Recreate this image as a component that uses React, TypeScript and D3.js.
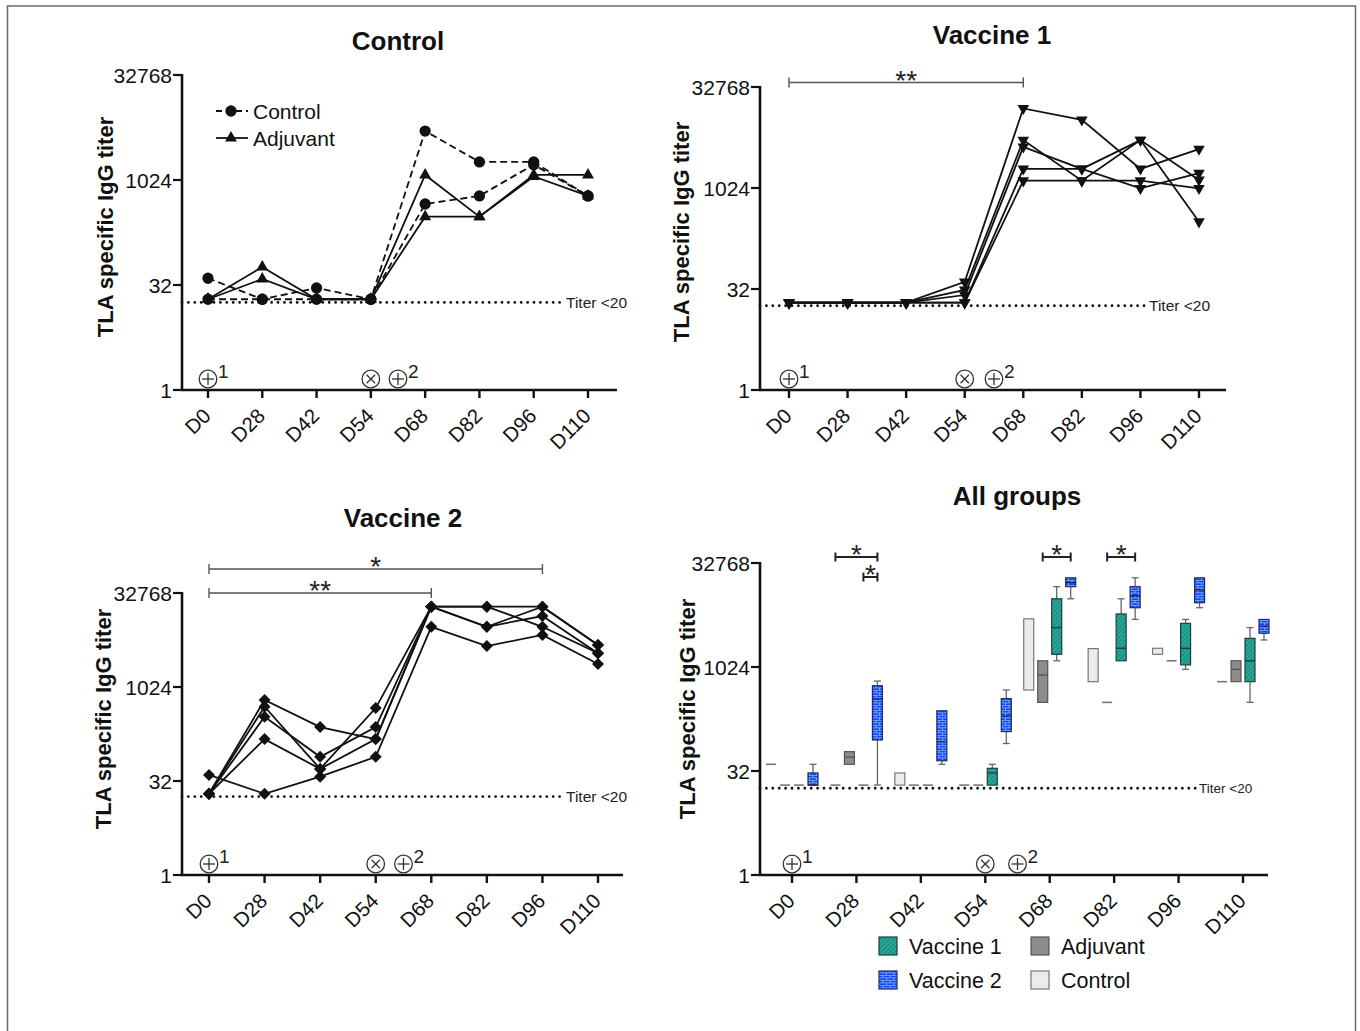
import { useEffect } from "react";
import * as d3 from "d3";

// ---- data ----
const days = ["D0", "D28", "D42", "D54", "D68", "D82", "D96", "D110"];
const yTicks = [1, 32, 1024, 32768];
const titerCut = 18;

// Control panel (individual animals)
const controlAnimals = [
  [40, 20, 29, 20, 5150, 1860, 1860, 605],
  [20, 20, 20, 20, 464, 605, 1700, 605],
];
const adjuvantAnimals = [
  [20, 58, 20, 20, 1210, 305, 1210, 1210],
  [20, 39, 20, 20, 305, 305, 1150, 605],
];

// Vaccine 1 animals
const vaccine1Animals = [
  [20, 20, 20, 41, 15700, 10600, 1970, 3900],
  [20, 20, 20, 31, 5300, 1315, 5300, 1350],
  [20, 20, 20, 26, 4200, 1970, 5300, 322],
  [20, 20, 20, 20, 1970, 1970, 1010, 1710],
  [20, 20, 20, 20, 1315, 1315, 1315, 1010],
];

// Vaccine 2 animals
const vaccine2Animals = [
  [20, 634, 234, 150, 19800, 19800, 19800, 4800],
  [20, 495, 50, 471, 19800, 9430, 14000, 3570],
  [20, 342, 78, 234, 19800, 19800, 9430, 3570],
  [40, 20, 37.5, 78, 9430, 4640, 6970, 2390],
  [20, 150, 50, 150, 19800, 9430, 19800, 4800],
];

// All groups: [min, q1, median, q3, max] per day (median null = not drawn)
const controlBox = [
  [40, 40, null, 40, 40],
  [20, 20, null, 20, 20],
  [20, 20, null, 30, 30],
  [20, 20, null, 20, 20],
  [475, 475, null, 5100, 5100],
  [628, 628, null, 1890, 1890],
  [1563, 1563, null, 1910, 1910],
  [628, 628, null, 628, 628],
];
const adjuvantBox = [
  [20, 20, null, 20, 20],
  [40, 40, 51, 61, 61],
  [20, 20, null, 20, 20],
  [20, 20, null, 20, 20],
  [315, 315, 786, 1260, 1260],
  [315, 315, null, 315, 315],
  [1260, 1260, null, 1260, 1260],
  [628, 628, 948, 1260, 1260],
];
const vaccine1Box = [
  [20, 20, null, 20, 20],
  [20, 20, null, 20, 20],
  [20, 20, null, 20, 20],
  [20, 20, 30, 35, 40],
  [1260, 1563, 3800, 9950, 14900],
  [1260, 1260, 1910, 6000, 9950],
  [948, 1100, 1910, 4390, 5000],
  [315, 628, 1260, 2660, 3800],
];
const vaccine2Box = [
  [20, 20, 20, 30, 40],
  [20, 90, 352, 549, 640],
  [40, 45, 85, 238, 238],
  [80, 119, 200, 357, 475],
  [9950, 14900, 17000, 20000, 20000],
  [5000, 7380, 11000, 14900, 20000],
  [7380, 8720, 13300, 20000, 20000],
  [2520, 3150, 4000, 5000, 5000],
];

const groupNames = ["Control", "Adjuvant", "Vaccine 1", "Vaccine 2"];
// significance bars in "All groups": [day, fromGroup, toGroup, level]
const allGroupsSig: [string, number, number, number][] = [
  ["D28", 0, 3, 0],
  ["D28", 2, 3, 1],
  ["D68", 1, 3, 0],
  ["D82", 1, 3, 0],
];

const FONT = "'Liberation Sans', Arial, Helvetica, sans-serif";
const INK = "#111";

type Panel = {
  left: number;
  first: number;
  last: number;
  right: number;
  top: number;
  bottom: number;
  title: string;
  titleX: number;
  titleY: number;
  labelX: number;
  labelY: number;
  cutEnd: number;
  cutSize: number;
};

const P1: Panel = { left: 182, first: 208, last: 588, right: 617, top: 75, bottom: 390, title: "Control", titleX: 398, titleY: 50, labelX: 105, labelY: 227, cutEnd: 563, cutSize: 15.5 };
const P2: Panel = { left: 760, first: 789, last: 1199, right: 1226, top: 87, bottom: 390, title: "Vaccine 1", titleX: 992, titleY: 44, labelX: 681, labelY: 232, cutEnd: 1146, cutSize: 15.5 };
const P3: Panel = { left: 182, first: 209, last: 598, right: 623, top: 593, bottom: 875, title: "Vaccine 2", titleX: 403, titleY: 527, labelX: 103, labelY: 719, cutEnd: 563, cutSize: 15.5 };
const P4: Panel = { left: 760, first: 792, last: 1243, right: 1268, top: 563, bottom: 875, title: "All groups", titleX: 1017, titleY: 505, labelX: 687, labelY: 709, cutEnd: 1196, cutSize: 13.5 };

function scales(p: Panel) {
  const x = d3.scalePoint<string>().domain(days).range([p.first, p.last]);
  const y = d3.scaleLog().base(2).domain([1, 32768]).range([p.bottom, p.top]);
  return { x, y };
}

function Frame({ p }: { p: Panel }) {
  const { x, y } = scales(p);
  const midVac = ((x("D54") as number) + (x("D68") as number)) / 2;
  const symY = p.bottom - 11;
  return (
    <g>
      <text x={p.titleX} y={p.titleY} textAnchor="middle" fontSize={26} fontWeight="bold">
        {p.title}
      </text>
      <text
        transform={`translate(${p.labelX},${p.labelY}) rotate(-90)`}
        textAnchor="middle"
        dy="0.35em"
        fontSize={22}
        fontWeight="bold"
      >
        TLA specific IgG titer
      </text>
      {/* y axis */}
      <line x1={p.left} x2={p.left} y1={p.top - 1} y2={p.bottom} stroke={INK} strokeWidth={2.6} />
      {yTicks.map((t) => (
        <g key={t}>
          <line x1={p.left - 9} x2={p.left} y1={y(t)} y2={y(t)} stroke={INK} strokeWidth={2.2} />
          <text x={p.left - 10} y={y(t)} dy="0.36em" textAnchor="end" fontSize={21}>
            {t}
          </text>
        </g>
      ))}
      {/* x axis */}
      <line x1={p.left - 1} x2={p.right} y1={p.bottom} y2={p.bottom} stroke={INK} strokeWidth={2.6} />
      {days.map((d) => (
        <g key={d}>
          <line x1={x(d)} x2={x(d)} y1={p.bottom} y2={p.bottom + 8} stroke={INK} strokeWidth={2.4} />
          <text
            transform={`translate(${(x(d) as number) - 1},${p.bottom + 22}) rotate(-45)`}
            textAnchor="end"
            dy="0.35em"
            fontSize={20.5}
          >
            {d}
          </text>
        </g>
      ))}
      {/* titer cut-off */}
      <line
        x1={p.left}
        x2={p.cutEnd}
        y1={y(titerCut)}
        y2={y(titerCut)}
        stroke={INK}
        strokeWidth={2.8}
        strokeDasharray="0 6.4"
        strokeLinecap="round"
      />
      <text x={p.cutEnd + 3} y={y(titerCut)} dy="0.36em" fontSize={p.cutSize} fill="#222">
        Titer &lt;20
      </text>
      {/* immunisation symbols */}
      <Plus cx={x("D0") as number} cy={symY} sup="1" />
      <Times cx={x("D54") as number} cy={symY} />
      <Plus cx={midVac} cy={symY} sup="2" />
    </g>
  );
}

function Plus({ cx, cy, sup }: { cx: number; cy: number; sup: string }) {
  return (
    <g stroke="#333" strokeWidth={1.3} fill="none">
      <circle cx={cx} cy={cy} r={8.8} fill="#fff" />
      <line x1={cx - 6} x2={cx + 6} y1={cy} y2={cy} />
      <line x1={cx} x2={cx} y1={cy - 6} y2={cy + 6} />
      <text x={cx + 10} y={cy - 1} fontSize={19} fill="#222" stroke="none">
        {sup}
      </text>
    </g>
  );
}

function Times({ cx, cy }: { cx: number; cy: number }) {
  const k = 4.2;
  return (
    <g stroke="#333" strokeWidth={1.3} fill="none">
      <circle cx={cx} cy={cy} r={8.8} fill="#fff" />
      <line x1={cx - k} x2={cx + k} y1={cy - k} y2={cy + k} />
      <line x1={cx - k} x2={cx + k} y1={cy + k} y2={cy - k} />
    </g>
  );
}

function SigBar({ x1, x2, y, stars, color = "#555", w = 1.4, cap = 5 }: { x1: number; x2: number; y: number; stars: string; color?: string; w?: number; cap?: number }) {
  return (
    <g>
      <line x1={x1} x2={x2} y1={y} y2={y} stroke={color} strokeWidth={w} />
      <line x1={x1} x2={x1} y1={y - cap} y2={y + cap} stroke={color} strokeWidth={w} />
      <line x1={x2} x2={x2} y1={y - cap} y2={y + cap} stroke={color} strokeWidth={w} />
      <text x={(x1 + x2) / 2} y={y + 7} textAnchor="middle" fontSize={28} fill="#222">
        {stars}
      </text>
    </g>
  );
}

function Series({ p, data, symbol, size, rotate = 0, dashed = false }: { p: Panel; data: number[][]; symbol: d3.SymbolType; size: number; rotate?: number; dashed?: boolean }) {
  const { x, y } = scales(p);
  const line = d3
    .line<number>()
    .x((_, i) => x(days[i]) as number)
    .y((v) => y(v));
  const sym = d3.symbol().type(symbol).size(size)();
  return (
    <g>
      {data.map((s, k) => (
        <path key={k} d={line(s) ?? ""} fill="none" stroke={INK} strokeWidth={1.8} strokeDasharray={dashed ? "7 4" : undefined} />
      ))}
      {data.map((s, k) =>
        s.map((v, i) => (
          <path key={`${k}-${i}`} d={sym ?? ""} fill={INK} transform={`translate(${x(days[i])},${y(v)}) rotate(${rotate})`} />
        ))
      )}
    </g>
  );
}

const boxStyles = [
  { fill: "#ececec", stroke: "#777", off: -21 },
  { fill: "#8d8d8d", stroke: "#555", off: -7 },
  { fill: "url(#hatch)", stroke: "#1c3f3a", off: 7 },
  { fill: "url(#brick)", stroke: "#1c2a66", off: 21 },
];
const boxData = [controlBox, adjuvantBox, vaccine1Box, vaccine2Box];

function Boxes({ p }: { p: Panel }) {
  const { x, y } = scales(p);
  const bw = 10;
  return (
    <g>
      {boxData.map((g, gi) =>
        g.map((s, di) => {
          const st = boxStyles[gi];
          const cx = (x(days[di]) as number) + st.off;
          const [mn, q1, md, q3, mx] = s as (number | null)[];
          if (q1 === q3) {
            return (
              <line key={`${gi}-${di}`} x1={cx - bw / 2} x2={cx + bw / 2} y1={y(q1 as number)} y2={y(q1 as number)} stroke="#777" strokeWidth={1.6} />
            );
          }
          return (
            <g key={`${gi}-${di}`}>
              {(mx as number) > (q3 as number) && (
                <g stroke="#666" strokeWidth={1.3}>
                  <line x1={cx} x2={cx} y1={y(q3 as number)} y2={y(mx as number)} />
                  <line x1={cx - 3.5} x2={cx + 3.5} y1={y(mx as number)} y2={y(mx as number)} />
                </g>
              )}
              {(mn as number) < (q1 as number) && (
                <g stroke="#666" strokeWidth={1.3}>
                  <line x1={cx} x2={cx} y1={y(q1 as number)} y2={y(mn as number)} />
                  <line x1={cx - 3.5} x2={cx + 3.5} y1={y(mn as number)} y2={y(mn as number)} />
                </g>
              )}
              <rect
                x={cx - bw / 2}
                y={y(q3 as number)}
                width={bw}
                height={y(q1 as number) - y(q3 as number)}
                fill={st.fill}
                stroke={st.stroke}
                strokeWidth={1.2}
              />
              {md !== null && (
                <line x1={cx - bw / 2} x2={cx + bw / 2} y1={y(md)} y2={y(md)} stroke={st.stroke} strokeWidth={1.4} />
              )}
            </g>
          );
        })
      )}
      {allGroupsSig.map(([d, a, b, lvl], i) => (
        <SigBar
          key={i}
          x1={(x(d) as number) + boxStyles[a].off}
          x2={(x(d) as number) + boxStyles[b].off}
          y={557 + lvl * 20}
          stars="*"
          color="#222"
          w={2}
          cap={4.5}
        />
      ))}
    </g>
  );
}

function Legend() {
  const items = [
    { name: groupNames[2], fill: "url(#hatch)", stroke: "#1c3f3a", x: 879, y: 937 },
    { name: groupNames[1], fill: "#8d8d8d", stroke: "#555", x: 1031, y: 937 },
    { name: groupNames[3], fill: "url(#brick)", stroke: "#1c2a66", x: 879, y: 971 },
    { name: groupNames[0], fill: "#ececec", stroke: "#777", x: 1031, y: 971 },
  ];
  return (
    <g>
      {items.map((it) => (
        <g key={it.name}>
          <rect x={it.x} y={it.y} width={18} height={18} fill={it.fill} stroke={it.stroke} strokeWidth={1.2} />
          <text x={it.x + 30} y={it.y + 9} dy="0.36em" fontSize={21.5}>
            {it.name}
          </text>
        </g>
      ))}
    </g>
  );
}

export default function App() {
  useEffect(() => {
    document.body.style.margin = "0";
  }, []);

  const s2 = scales(P2);
  const s3 = scales(P3);

  return (
    <svg width={1360} height={1031} style={{ display: "block", background: "#fff" }} fontFamily={FONT} fill={INK}>
      <defs>
        <pattern id="hatch" width={3.2} height={3.2} patternUnits="userSpaceOnUse" patternTransform="rotate(45)">
          <rect width={3.2} height={3.2} fill="#26a898" />
          <line x1={0} x2={0} y1={0} y2={3.2} stroke="#14695f" strokeWidth={1.1} />
        </pattern>
        <pattern id="brick" width={7} height={5} patternUnits="userSpaceOnUse">
          <rect width={7} height={5} fill="#1f3ff2" />
          <line x1={0} x2={7} y1={0.4} y2={0.4} stroke="#79c6ff" strokeWidth={0.8} />
          <line x1={0} x2={7} y1={2.9} y2={2.9} stroke="#79c6ff" strokeWidth={0.8} />
          <line x1={1} x2={1} y1={0.4} y2={2.9} stroke="#79c6ff" strokeWidth={0.8} />
          <line x1={4.5} x2={4.5} y1={2.9} y2={5} stroke="#79c6ff" strokeWidth={0.8} />
        </pattern>
      </defs>
      <rect x={7.5} y={6} width={1348} height={1040} fill="none" stroke="#6a6a6a" strokeWidth={1.5} />

      {/* Control */}
      <Frame p={P1} />
      <Series p={P1} data={adjuvantAnimals} symbol={d3.symbolTriangle} size={62} />
      <Series p={P1} data={controlAnimals} symbol={d3.symbolCircle} size={100} dashed />
      <g>
        <line x1={216} x2={248} y1={111} y2={111} stroke={INK} strokeWidth={1.8} strokeDasharray="6 4" />
        <path d={d3.symbol().type(d3.symbolCircle).size(100)() ?? ""} transform="translate(231,111)" />
        <text x={253} y={111} dy="0.36em" fontSize={21}>Control</text>
        <line x1={216} x2={248} y1={138} y2={138} stroke={INK} strokeWidth={1.8} />
        <path d={d3.symbol().type(d3.symbolTriangle).size(62)() ?? ""} transform="translate(231,138)" />
        <text x={253} y={138} dy="0.36em" fontSize={21}>Adjuvant</text>
      </g>

      {/* Vaccine 1 */}
      <Frame p={P2} />
      <Series p={P2} data={vaccine1Animals} symbol={d3.symbolTriangle} size={58} rotate={180} />
      <SigBar x1={s2.x("D0") as number} x2={s2.x("D68") as number} y={82.5} stars="**" />

      {/* Vaccine 2 */}
      <Frame p={P3} />
      <Series p={P3} data={vaccine2Animals} symbol={d3.symbolSquare} size={72} rotate={45} />
      <SigBar x1={s3.x("D0") as number} x2={s3.x("D96") as number} y={569} stars="*" />
      <SigBar x1={s3.x("D0") as number} x2={s3.x("D68") as number} y={593} stars="**" />

      {/* All groups */}
      <Frame p={P4} />
      <Boxes p={P4} />
      <Legend />
    </svg>
  );
}
